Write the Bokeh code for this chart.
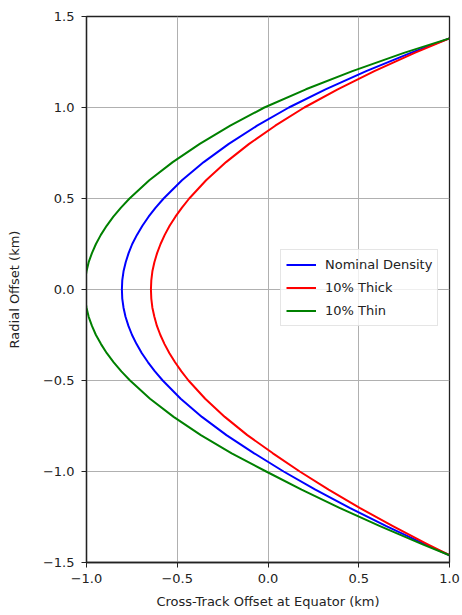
from bokeh.plotting import figure
from bokeh.models import Range1d, FixedTicker, CustomJSTickFormatter, Legend, LegendItem
from bokeh.embed import file_html
from bokeh.resources import INLINE

# Radial offset (km) sample positions
radial = [1.38, 1.3, 1.2, 1.1, 1.0, 0.9, 0.8, 0.7, 0.6,
          0.5, 0.45, 0.4, 0.35, 0.3, 0.25, 0.2, 0.15, 0.1, 0.05, 0.0,
          -0.05, -0.1, -0.15, -0.2, -0.25, -0.3, -0.35, -0.4, -0.45, -0.5,
          -0.6, -0.7, -0.8, -0.9, -1.0, -1.1, -1.2, -1.3, -1.4, -1.46]

# Cross-track offset (km) for each series at those radial offsets
nominal = [1.0, 0.787, 0.541, 0.317, 0.115, -0.06, -0.216, -0.354, -0.474,
           -0.575, -0.619, -0.658, -0.692, -0.722, -0.748, -0.768, -0.784, -0.796, -0.803, -0.805,
           -0.803, -0.796, -0.785, -0.769, -0.749, -0.724, -0.695, -0.661, -0.623, -0.58,
           -0.481, -0.364, -0.229, -0.076, 0.086, 0.261, 0.45, 0.652, 0.866, 1.0]
thick = [1.0, 0.808, 0.586, 0.384, 0.2, 0.04, -0.104, -0.231, -0.341,
         -0.434, -0.474, -0.51, -0.542, -0.569, -0.592, -0.611, -0.626, -0.637, -0.643, -0.645,
         -0.643, -0.637, -0.626, -0.612, -0.593, -0.57, -0.543, -0.512, -0.477, -0.438,
         -0.346, -0.238, -0.114, 0.027, 0.175, 0.334, 0.505, 0.688, 0.88, 1.0]
thin = [1.0, 0.749, 0.465, 0.209, -0.02, -0.208, -0.376, -0.525, -0.654,
        -0.763, -0.81, -0.852, -0.889, -0.921, -0.948, -0.97, -0.988, -1.0, -1.008, -1.01,
        -1.008, -1.0, -0.988, -0.97, -0.948, -0.92, -0.888, -0.85, -0.808, -0.76,
        -0.65, -0.52, -0.37, -0.2, -0.01, 0.185, 0.394, 0.617, 0.852, 1.0]

series_names = ["Nominal Density", "10% Thick", "10% Thin"]
series_colors = ["#0000ff", "#ff0000", "#008000"]

x_ticks = [-1.0, -0.5, 0.0, 0.5, 1.0]
y_ticks = [-1.5, -1.0, -0.5, 0.0, 0.5, 1.0, 1.5]

FONT = "DejaVu Sans"

p = figure(width=462, height=615, x_range=Range1d(-1, 1), y_range=Range1d(-1.5, 1.5),
           output_backend="svg", toolbar_location=None,
           min_border_left=86, min_border_right=13, min_border_top=16, min_border_bottom=53,
           background_fill_color="white", border_fill_color="white")

p.outline_line_color = "#222222"
p.outline_line_width = 1.3

fmt = CustomJSTickFormatter(code="return tick.toFixed(1).replace('-', '\u2212');")
for ax, ticks in ((p.xaxis[0], x_ticks), (p.yaxis[0], y_ticks)):
    ax.ticker = FixedTicker(ticks=ticks)
    ax.formatter = fmt
    ax.axis_line_color = "#222222"
    ax.axis_line_width = 1.3
    ax.major_tick_line_color = "#222222"
    ax.major_tick_out = 5
    ax.major_tick_in = 0
    ax.minor_tick_line_color = None
    ax.major_label_text_font = FONT
    ax.major_label_text_font_size = "13px"
    ax.major_label_text_color = "#222222"
    ax.axis_label_text_font = FONT
    ax.axis_label_text_font_size = "13px"
    ax.axis_label_text_font_style = "normal"
    ax.axis_label_text_color = "#222222"

p.xaxis.axis_label = "Cross-Track Offset at Equator (km)"
p.yaxis.axis_label = "Radial Offset (km)"
p.xaxis.major_label_standoff = 6
p.xaxis.axis_label_standoff = 8
p.yaxis.major_label_standoff = 7
p.yaxis.axis_label_standoff = 18

p.grid.grid_line_color = "#b0b0b0"
p.grid.grid_line_width = 1

renderers = []
for xs, name, color in zip((nominal, thick, thin), series_names, series_colors):
    r = p.line(xs, radial, line_color=color, line_width=2, line_join="round")
    renderers.append(r)

legend = Legend(items=[LegendItem(label=n, renderers=[r]) for n, r in zip(series_names, renderers)],
                location=(194, 236), margin=0, padding=5, spacing=4,
                glyph_width=30, glyph_height=19, label_height=19, label_standoff=9,
                label_text_font=FONT, label_text_font_size="13px", label_text_color="#222222",
                border_line_color="#cccccc", border_line_width=1,
                background_fill_color="white", background_fill_alpha=0.8)
p.add_layout(legend)

open("out.html", "w").write(file_html(p, INLINE))
